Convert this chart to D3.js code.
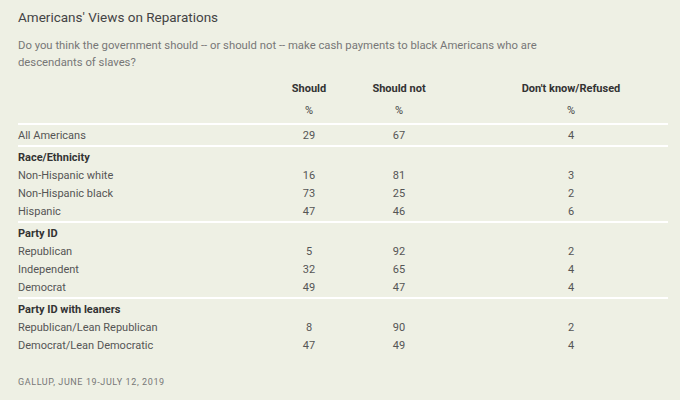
<!DOCTYPE html>
<html>
<head>
<script src="https://d3js.org/d3.v7.min.js"></script>
<style>
body { margin: 0; background: #eef0e4; }
text { font-family: Roboto, "Open Sans", sans-serif; }
</style>
</head>
<body>
<svg id="chart" width="680" height="400"></svg>
<script>
const columns = ["Should", "Should not", "Don't know/Refused"];
const groups = ["", "Race/Ethnicity", "Party ID", "Party ID with leaners"];
const rowLabels = ["All Americans", "Non-Hispanic white", "Non-Hispanic black", "Hispanic",
  "Republican", "Independent", "Democrat", "Republican/Lean Republican", "Democrat/Lean Democratic"];
const rowGroup = [0, 1, 1, 1, 2, 2, 2, 3, 3];
const should = [29, 16, 73, 47, 5, 32, 49, 8, 47];
const shouldNot = [67, 81, 25, 46, 92, 65, 47, 90, 49];
const dontKnow = [4, 3, 2, 6, 2, 4, 4, 2, 4];

const svg = d3.select("#chart");
svg.append("rect").attr("width", 680).attr("height", 400).attr("fill", "#eef0e4");

svg.append("text").attr("x", 18).attr("y", 22).attr("font-size", 13.5).attr("fill", "#444")
  .text("Americans' Views on Reparations");
svg.append("text").attr("x", 18).attr("y", 49).attr("font-size", 11.3).attr("fill", "#777")
  .text("Do you think the government should -- or should not -- make cash payments to black Americans who are");
svg.append("text").attr("x", 18).attr("y", 66).attr("font-size", 11.3).attr("fill", "#777")
  .text("descendants of slaves?");

const x = d3.scaleOrdinal().domain(columns).range([309, 399, 571]);

// header
columns.forEach(c => {
  svg.append("text").attr("x", x(c)).attr("y", 92).attr("text-anchor", "middle")
    .attr("font-size", 11).attr("font-weight", "bold").attr("fill", "#333").text(c);
  svg.append("text").attr("x", x(c)).attr("y", 114).attr("text-anchor", "middle")
    .attr("font-size", 11).attr("fill", "#444").text("%");
});

// build layout rows
let yPos = 139;
const lineYs = [124];
const items = [];
rowLabels.forEach((label, i) => {
  const g = rowGroup[i];
  if (i > 0 && rowGroup[i - 1] !== g) {
    lineYs.push(yPos - 11);
    yPos += 4;
    items.push({ type: "group", label: groups[g], y: yPos });
    yPos += 18;
  }
  items.push({ type: "row", i: i, label: label, y: yPos });
  yPos += 18;
});

svg.selectAll("line.sep").data(lineYs).enter().append("line")
  .attr("x1", 18).attr("x2", 668).attr("y1", d => d).attr("y2", d => d)
  .attr("stroke", "#fff").attr("stroke-width", 2);

items.forEach(it => {
  if (it.type === "group") {
    svg.append("text").attr("x", 18).attr("y", it.y).attr("font-size", 11)
      .attr("font-weight", "bold").attr("fill", "#333").text(it.label);
  } else {
    svg.append("text").attr("x", 18).attr("y", it.y).attr("font-size", 11)
      .attr("fill", "#555").text(it.label);
    [should, shouldNot, dontKnow].forEach((arr, k) => {
      svg.append("text").attr("x", x(columns[k])).attr("y", it.y).attr("text-anchor", "middle")
        .attr("font-size", 11).attr("fill", "#555").text(arr[it.i]);
    });
  }
});

svg.append("text").attr("x", 18).attr("y", 385).attr("font-size", 9).attr("fill", "#777")
  .attr("letter-spacing", 0.6).text("GALLUP, JUNE 19-JULY 12, 2019");
</script>
</body>
</html>
